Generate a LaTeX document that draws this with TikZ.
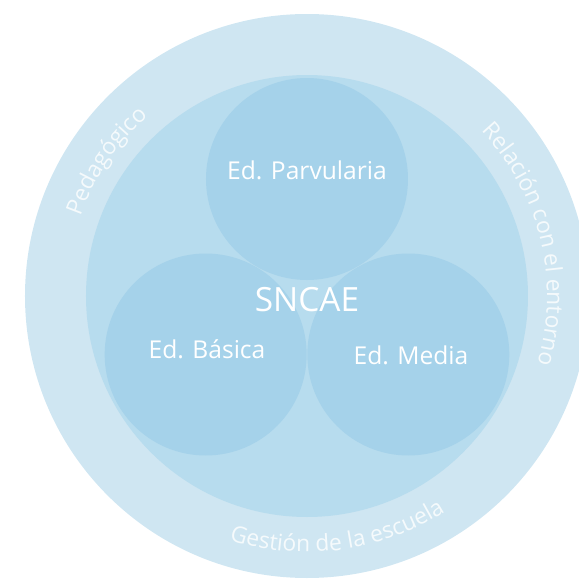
\documentclass[tikz,border=0pt]{standalone}
\usepackage{fontspec}
\setmainfont{Open Sans}
\usetikzlibrary{decorations.text}

\definecolor{anillo}{RGB}{207,230,242}
\definecolor{medio}{RGB}{183,220,238}
\definecolor{nivel}{RGB}{165,210,234}

\newcommand{\ringfont}{\fontsize{13}{15}\selectfont}
\newcommand{\nivelfont}{\fontsize{14}{16}\selectfont}

\begin{document}
\begin{tikzpicture}[
        etiqueta/.style={text=white, font=\nivelfont, inner sep=0pt},
        ringtext/.style={decorate, decoration={text along path, text align=center,
            text color=white!80!anillo, text={|\ringfont|#1}}}
    ]
        \clip (-6.14,-5.70) rectangle (5.44,5.92);

        \fill[anillo] (0,0) circle (5.64);
        \fill[medio] (0,0) circle (4.42);

        \fill[nivel] (90:2.34) circle (2.02);
        \fill[nivel] (210:2.34) circle (2.02);
        \fill[nivel] (330:2.34) circle (2.02);

        \node[etiqueta] (parv) at (0,2.52) {Ed. Parvularia};
        \node[etiqueta] (basica) at (-2.0,-1.06) {Ed. Básica};
        \node[etiqueta] (media) at (2.08,-1.18) {Ed. Media};
        \node[etiqueta, font=\fontsize{19}{22}\selectfont] (sncae) at (0,-0.08) {SNCAE};

        \path[ringtext={Pedagógico}] (186:4.8) arc (186:106:4.8);
        \path[ringtext={Relación con el entorno}] (54:4.8) arc (54:-27:4.8);
        \path[ringtext={Gestión de la escuela}] (-125:5.12) arc (-125:-40:5.12);
    \end{tikzpicture}
\end{document}
